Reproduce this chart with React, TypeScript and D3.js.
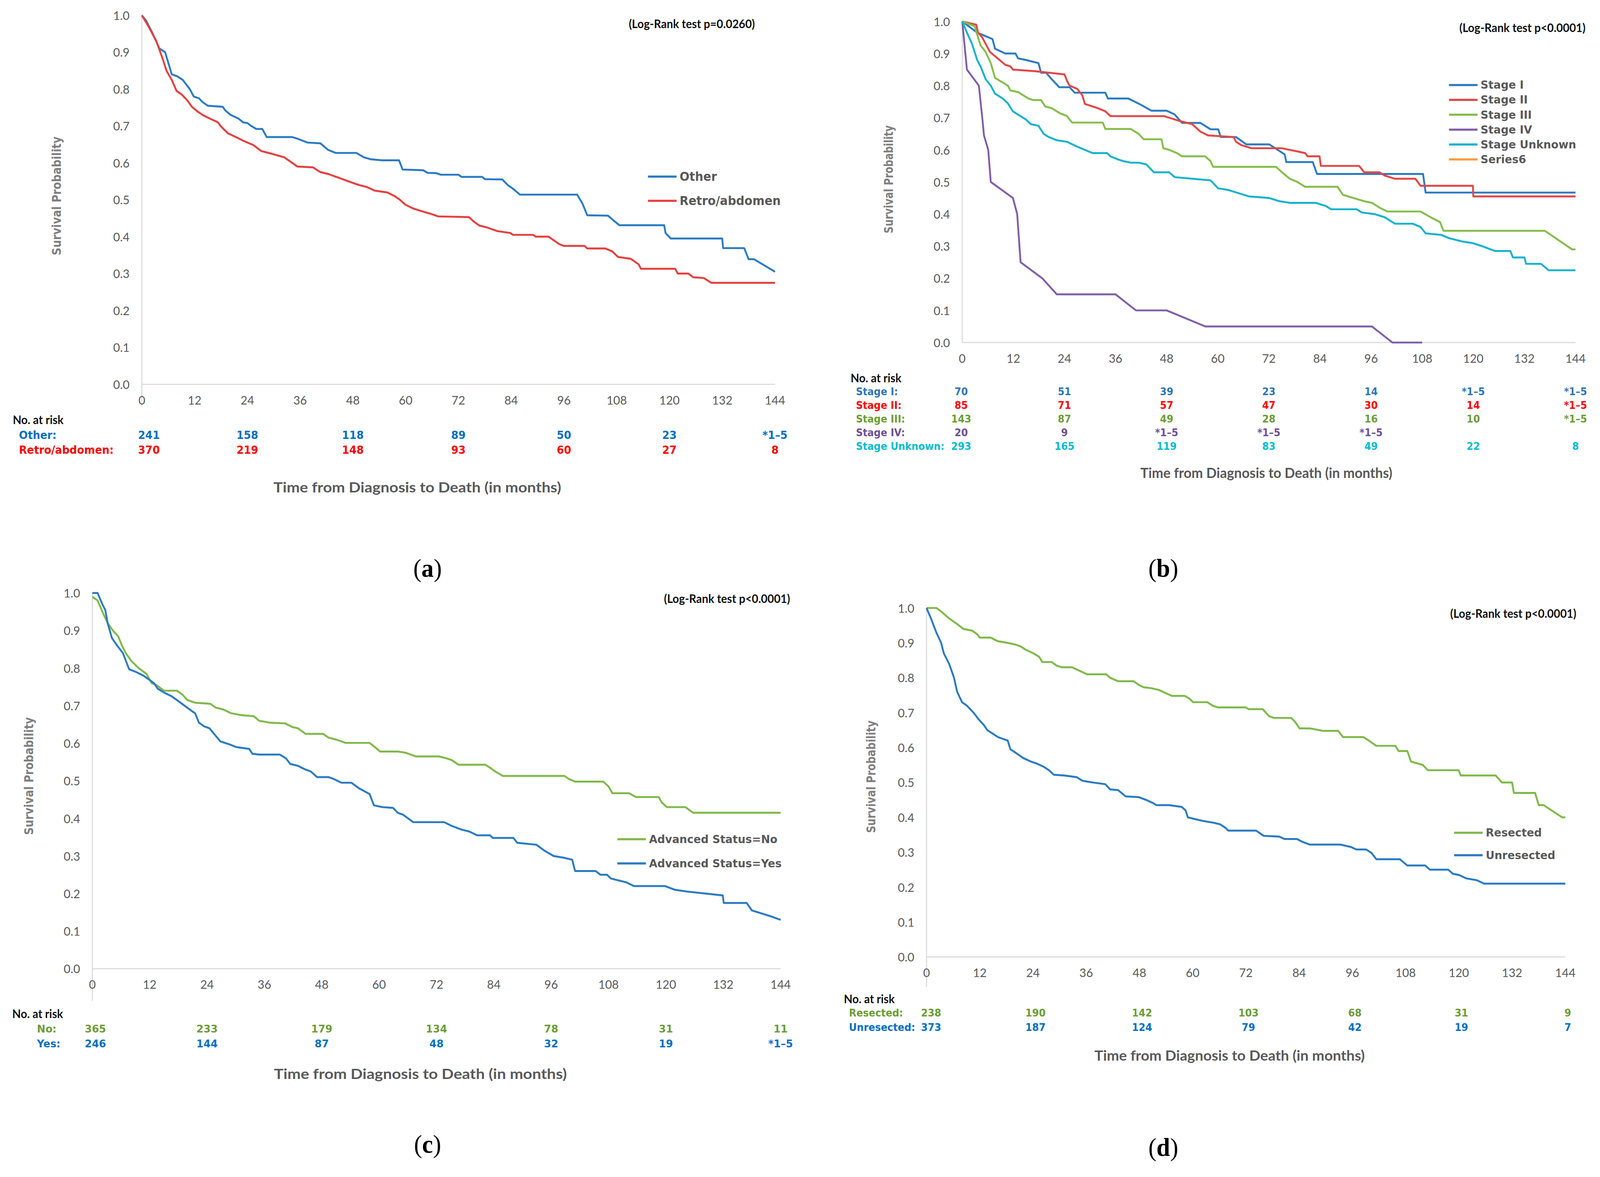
import React from 'react'
import * as d3 from 'd3'

type Pt = [number, number]

const monthTicks = [0, 12, 24, 36, 48, 60, 72, 84, 96, 108, 120, 132, 144]
const probTicks = [0, 0.1, 0.2, 0.3, 0.4, 0.5, 0.6, 0.7, 0.8, 0.9, 1.0]
const riskTimes = [0, 24, 48, 72, 96, 120, 144]

// (a) tumour site
const otherCurve: Pt[] = [[0,1.0],[1,0.985],[2.5,0.95],[4,0.91],[5.3,0.90],[6.8,0.84],[8,0.835],[9.3,0.825],[10.9,0.80],[11.8,0.78],[13,0.775],[13.8,0.765],[15,0.755],[18.4,0.752],[19,0.742],[20.2,0.73],[22,0.72],[23,0.71],[24,0.708],[24.9,0.70],[26,0.692],[27.4,0.692],[28.4,0.67],[34.2,0.67],[35.5,0.665],[37.7,0.655],[40.6,0.653],[42.4,0.635],[44.1,0.627],[48.8,0.627],[50.5,0.615],[52,0.61],[54.6,0.607],[58.5,0.607],[59.3,0.582],[64,0.58],[65,0.573],[67,0.572],[68,0.568],[72,0.568],[72.7,0.562],[77.4,0.562],[78,0.556],[82,0.555],[83.2,0.54],[84.4,0.53],[86,0.514],[99,0.514],[100.2,0.49],[101.3,0.458],[106,0.457],[107.2,0.445],[108.6,0.431],[118.8,0.431],[119.1,0.41],[120.3,0.395],[132,0.395],[132.2,0.369],[137,0.369],[138,0.339],[139.2,0.339],[144,0.305]]
const retroCurve: Pt[] = [[0,1.0],[1.5,0.97],[3.3,0.93],[4.8,0.88],[5.6,0.85],[6.8,0.825],[7.9,0.795],[9.1,0.785],[10.3,0.77],[11.4,0.752],[12.6,0.74],[13.8,0.73],[15.5,0.72],[17.3,0.71],[17.9,0.70],[19.6,0.68],[21.4,0.67],[23.1,0.66],[25.4,0.648],[27.2,0.632],[29.5,0.625],[32.4,0.615],[34.2,0.60],[35.4,0.59],[38.9,0.588],[40.6,0.575],[42.4,0.57],[44.7,0.56],[47,0.55],[49.4,0.54],[51.1,0.535],[52.9,0.525],[55.8,0.52],[57.5,0.51],[58.7,0.50],[59.9,0.487],[61.6,0.477],[63.4,0.47],[65.7,0.462],[67.4,0.455],[74.4,0.453],[75.6,0.44],[76.8,0.43],[78.5,0.425],[80.9,0.415],[83.8,0.41],[84.4,0.405],[89,0.405],[89.6,0.40],[92.5,0.40],[93.7,0.39],[94.9,0.38],[96,0.375],[100.7,0.375],[101.3,0.368],[105.4,0.368],[107,0.36],[108.3,0.345],[111.2,0.34],[113,0.325],[113.5,0.313],[121.3,0.313],[121.9,0.30],[124.3,0.30],[125.4,0.29],[127.8,0.288],[129.5,0.275],[144,0.275]]
const otherRisk = ['241', '158', '118', '89', '50', '23', '*1–5']
const retroRisk = ['370', '219', '148', '93', '60', '27', '8']

// (b) stage
const stage1Curve: Pt[] = [[0,1.0],[3.5,0.965],[7.1,0.945],[7.7,0.915],[10.1,0.90],[12.5,0.90],[13.1,0.885],[14.9,0.88],[17.9,0.87],[18.5,0.84],[19.7,0.84],[21,0.82],[22.8,0.795],[25.2,0.795],[26.4,0.778],[33.6,0.778],[34.2,0.76],[39,0.76],[42,0.74],[44.4,0.722],[48,0.722],[49.9,0.71],[51.6,0.684],[55.9,0.684],[58.3,0.664],[60.1,0.664],[60.7,0.64],[64.3,0.64],[66.7,0.617],[72.1,0.617],[75.7,0.586],[76.1,0.562],[82.3,0.562],[83.3,0.525],[108.2,0.525],[108.8,0.467],[144,0.467]]
const stage2Curve: Pt[] = [[0,1.0],[3.3,0.99],[3.7,0.965],[4.7,0.95],[5.5,0.93],[6.5,0.905],[8.3,0.885],[10.1,0.865],[11.3,0.86],[11.9,0.85],[17,0.845],[24,0.835],[24.6,0.815],[25.2,0.80],[27,0.79],[28.2,0.77],[28.8,0.743],[31.8,0.73],[33.6,0.72],[34.8,0.705],[47.4,0.705],[48.6,0.70],[51,0.69],[54,0.68],[55.9,0.657],[57.7,0.645],[63.7,0.64],[64.3,0.625],[65.5,0.615],[67.9,0.605],[75.1,0.605],[80.5,0.59],[81.1,0.58],[83.9,0.58],[84.2,0.55],[93.2,0.55],[94.4,0.53],[98,0.53],[99.2,0.52],[101.6,0.51],[106.4,0.51],[107.6,0.488],[119.9,0.488],[120,0.455],[144,0.455]]
const stage3Curve: Pt[] = [[0,1.0],[2.9,0.985],[4.3,0.925],[5.5,0.905],[6.7,0.87],[7.7,0.824],[9.5,0.81],[10.7,0.80],[11.3,0.785],[13.1,0.78],[14.3,0.77],[15.5,0.76],[16.7,0.755],[18.5,0.755],[19.5,0.735],[21,0.73],[22.8,0.715],[24.6,0.705],[25.8,0.685],[33,0.685],[33.6,0.665],[39.6,0.665],[41.4,0.65],[42.6,0.633],[46.8,0.633],[47.2,0.605],[48.6,0.60],[50.4,0.59],[51.6,0.58],[57,0.58],[58.3,0.565],[58.9,0.547],[73.7,0.547],[75.1,0.53],[76.9,0.51],[78.7,0.50],[80.5,0.485],[88.1,0.485],[89.4,0.46],[94.4,0.44],[96.2,0.435],[98,0.42],[99.8,0.408],[107.6,0.408],[110,0.39],[112.2,0.375],[113,0.348],[136.8,0.348],[143.2,0.29],[144,0.29]]
const stage4Curve: Pt[] = [[0,1.0],[1.1,0.85],[3.9,0.80],[4.7,0.70],[5.1,0.645],[6.1,0.60],[6.7,0.50],[11.9,0.45],[12.9,0.40],[13.7,0.25],[18.8,0.20],[22.2,0.15],[36,0.15],[40.8,0.10],[48,0.10],[57.1,0.05],[96.2,0.05],[101,0.0],[108,0.0]]
const stageUnkCurve: Pt[] = [[0,1.0],[1.1,0.965],[2.3,0.93],[3.5,0.88],[4.3,0.86],[5.5,0.82],[6.7,0.80],[7.7,0.775],[9.5,0.76],[10.7,0.745],[11.9,0.72],[13.1,0.71],[14.9,0.695],[16.1,0.68],[17.9,0.675],[19.1,0.65],[20.3,0.64],[22.2,0.63],[24.6,0.625],[27,0.61],[28.8,0.60],[30.6,0.59],[34,0.59],[34.8,0.58],[36.6,0.57],[37.8,0.565],[39.6,0.56],[41.4,0.56],[43.2,0.555],[45,0.53],[48.6,0.53],[49.9,0.515],[54.1,0.51],[58.3,0.505],[60.1,0.48],[62.5,0.475],[64.9,0.465],[67.3,0.455],[72.1,0.45],[74.5,0.44],[76.9,0.435],[83,0.435],[85.4,0.425],[86.6,0.415],[92.6,0.415],[93.8,0.405],[96.8,0.40],[99.2,0.39],[101.6,0.37],[105.8,0.37],[107.6,0.36],[108.8,0.34],[112.5,0.335],[114.3,0.325],[117.3,0.315],[119.7,0.31],[122.1,0.30],[125.1,0.285],[128.7,0.285],[129.3,0.265],[132,0.265],[132.4,0.245],[135.9,0.245],[137.7,0.225],[144,0.225]]
const stage1Risk = ['70', '51', '39', '23', '14', '*1–5', '*1–5']
const stage2Risk = ['85', '71', '57', '47', '30', '14', '*1–5']
const stage3Risk = ['143', '87', '49', '28', '16', '10', '*1–5']
const stage4Risk = ['20', '9', '*1–5', '*1–5', '*1–5', '', '']
const stageUnkRisk = ['293', '165', '119', '83', '49', '22', '8']

// (c) advanced status
const advNoCurve: Pt[] = [[0,0.99],[1.1,0.98],[2.1,0.95],[3.2,0.92],[4.3,0.90],[5.4,0.885],[6.2,0.86],[7,0.84],[8.1,0.82],[9.7,0.80],[11.3,0.785],[12.4,0.76],[13.4,0.755],[15,0.74],[17.7,0.74],[18.8,0.73],[19.9,0.715],[21.5,0.708],[24.7,0.705],[25.8,0.695],[27.4,0.69],[29,0.68],[31.1,0.675],[33.8,0.672],[34.9,0.66],[37,0.655],[40.3,0.653],[41.9,0.643],[43,0.64],[44.6,0.625],[48.3,0.625],[49.4,0.615],[51,0.61],[52.1,0.605],[53,0.601],[58,0.601],[59.1,0.59],[60.2,0.578],[63.9,0.578],[65.5,0.575],[66.6,0.57],[67.7,0.565],[72.5,0.565],[74.1,0.56],[75.2,0.555],[76.6,0.543],[82.2,0.543],[83.2,0.535],[84.3,0.525],[85.9,0.513],[98.8,0.513],[99.7,0.505],[101,0.498],[106.9,0.498],[108,0.485],[108.8,0.467],[112.3,0.467],[113.7,0.457],[118.5,0.457],[119.1,0.443],[120.2,0.43],[124.1,0.43],[125.7,0.415],[144,0.415]]
const advYesCurve: Pt[] = [[0,1.0],[1.1,1.0],[2.1,0.97],[2.7,0.955],[3.2,0.92],[4.1,0.88],[5.2,0.86],[6.4,0.84],[7,0.82],[7.7,0.797],[9.1,0.79],[10.7,0.78],[11.8,0.77],[12.9,0.76],[13.7,0.745],[15,0.735],[16.6,0.725],[17.7,0.715],[19.3,0.70],[20.9,0.685],[21.5,0.68],[22.3,0.655],[23.4,0.645],[24.5,0.64],[25.8,0.62],[26.8,0.605],[28.5,0.598],[30.1,0.59],[32.8,0.585],[33.5,0.572],[34.9,0.57],[39.2,0.57],[40.5,0.56],[41.4,0.545],[43,0.54],[44.6,0.53],[45.7,0.525],[47,0.51],[49.4,0.51],[50.5,0.505],[52.1,0.495],[54.2,0.495],[55.8,0.48],[58,0.465],[58.9,0.435],[60.7,0.43],[62.9,0.428],[63.9,0.415],[65,0.41],[66.6,0.395],[67.1,0.39],[73.6,0.39],[75.2,0.38],[77.3,0.37],[78.9,0.365],[80.5,0.355],[83.2,0.355],[83.8,0.348],[88.1,0.348],[88.9,0.335],[92.9,0.33],[94.5,0.315],[96.5,0.30],[98.8,0.295],[100.4,0.29],[101,0.26],[105.3,0.26],[106.3,0.25],[107.7,0.25],[108.5,0.24],[111.7,0.23],[113.3,0.22],[119.8,0.22],[121.9,0.21],[124.6,0.205],[128.4,0.20],[131.9,0.195],[132.1,0.175],[136.9,0.175],[138,0.155],[141.8,0.14],[144,0.13]]
const advNoRisk = ['365', '233', '179', '134', '78', '31', '11']
const advYesRisk = ['246', '144', '87', '48', '32', '19', '*1–5']

// (d) resection
const resectedCurve: Pt[] = [[0,1.0],[2.2,1.0],[3.3,0.99],[5.1,0.97],[6.8,0.955],[8.3,0.94],[10.3,0.935],[11.4,0.925],[12,0.915],[14.5,0.915],[16,0.905],[18.3,0.90],[20.1,0.895],[21.2,0.89],[22.4,0.88],[24.1,0.87],[25.4,0.86],[26.1,0.845],[28.2,0.845],[29.3,0.835],[30.5,0.83],[32.8,0.83],[34.5,0.82],[36.2,0.81],[40.5,0.81],[41.4,0.80],[43.2,0.79],[46.7,0.79],[47.8,0.78],[48.9,0.773],[50.7,0.77],[52.4,0.765],[54.1,0.755],[55.3,0.748],[58.2,0.748],[59.3,0.74],[60.1,0.73],[63.3,0.73],[64.5,0.72],[65.7,0.715],[72,0.715],[72.6,0.71],[75.8,0.71],[77.2,0.69],[78.3,0.685],[82.2,0.685],[83,0.675],[84.1,0.655],[86.4,0.655],[89.3,0.648],[92.8,0.648],[93.9,0.63],[98.5,0.63],[99.7,0.62],[101.4,0.605],[105.7,0.605],[106.4,0.59],[108.4,0.59],[109.2,0.56],[111.9,0.55],[113,0.535],[120,0.535],[120.4,0.52],[128.3,0.52],[129.7,0.50],[132,0.50],[132.4,0.47],[137.2,0.47],[138,0.435],[139.1,0.435],[143.3,0.40],[144,0.40]]
const unresectedCurve: Pt[] = [[0,1.0],[1,0.97],[2.2,0.93],[3.3,0.90],[3.9,0.87],[5.1,0.84],[6.2,0.80],[6.9,0.76],[8,0.73],[9.1,0.72],[10.6,0.70],[11.8,0.68],[12.9,0.665],[13.7,0.65],[14.9,0.64],[16.1,0.63],[17.2,0.625],[18.3,0.62],[18.9,0.595],[20.1,0.585],[21.8,0.57],[23.5,0.56],[24.7,0.555],[26.4,0.545],[27.6,0.535],[28.7,0.522],[31,0.52],[33.9,0.515],[35.1,0.505],[37.4,0.50],[40.3,0.495],[41.4,0.48],[43.2,0.478],[44.9,0.46],[47.8,0.458],[49.5,0.45],[51.2,0.44],[51.8,0.435],[54.7,0.435],[57.5,0.43],[58.4,0.42],[58.9,0.40],[60.5,0.395],[62.2,0.39],[64.5,0.385],[66.2,0.38],[67.4,0.37],[68,0.362],[74.3,0.362],[76,0.347],[79.5,0.345],[80.7,0.338],[83.5,0.338],[84.7,0.33],[86.4,0.322],[93.3,0.322],[95.7,0.315],[96.9,0.308],[99.1,0.308],[100.3,0.298],[101.4,0.28],[106.7,0.28],[108.4,0.262],[112.4,0.262],[113.5,0.25],[117.6,0.25],[118.7,0.238],[120,0.235],[121.7,0.225],[124,0.22],[125.7,0.21],[144,0.21]]
const resectedRisk = ['238', '190', '142', '103', '68', '31', '9']
const unresectedRisk = ['373', '187', '124', '79', '42', '19', '7']

interface Series {
  name: string
  riskLabel?: string
  points: Pt[]
  color: string
  textColor?: string
  risk?: string[]
}

interface PanelDef {
  x0: number; x1: number; yTop: number; yBottom: number; axisExt: number
  pText: string; pX: number; pY: number
  titleX: number; titleY: number; titleW: number
  yTitleX: number; yTitleY: number; yTitleW: number
  legX: number; legY: number; legStep: number; legFont: number
  riskHeadX: number; riskHeadY: number; riskLabelX: number; riskY: number; riskStep: number
  riskOff0: number; riskOff: number; riskFont: number
  tag: string; tagX: number; tagY: number
  series: Series[]
}

const BLUE_LINE = '#2b7bc2'
const BLUE_TEXT = '#0070c0'
const GREEN_LINE = '#7fb94a'
const GREEN_TEXT = '#6c9d38'

const panels: PanelDef[] = [
  {
    x0: 139, x1: 759.5, yTop: 14.3, yBottom: 359, axisExt: 21,
    pText: '(Log-Rank test p=0.0260)', pX: 678, pY: 22,
    titleX: 409, titleY: 455, titleW: 282,
    yTitleX: 55.5, yTitleY: 183, yTitleW: 111,
    legX: 635, legY: 165, legStep: 22.6, legFont: 11.4,
    riskHeadX: 12.5, riskHeadY: 392, riskLabelX: 18.6, riskY: 406.4, riskStep: 14,
    riskOff0: 7, riskOff: 0, riskFont: 10.2,
    tag: 'a', tagX: 419, tagY: 539,
    series: [
      { name: 'Other', riskLabel: 'Other:', points: otherCurve, color: BLUE_LINE, textColor: BLUE_TEXT, risk: otherRisk },
      { name: 'Retro/abdomen', riskLabel: 'Retro/abdomen:', points: retroCurve, color: '#e5403f', textColor: '#ff0000', risk: retroRisk },
    ],
  },
  {
    x0: 943, x1: 1544, yTop: 20, yBottom: 320, axisExt: 0,
    pText: '(Log-Rank test p<0.0001)', pX: 1492, pY: 25.5,
    titleX: 1241, titleY: 441.5, titleW: 247,
    yTitleX: 871, yTitleY: 167.5, yTitleW: 101,
    legX: 1420, legY: 79.4, legStep: 13.9, legFont: 10.6,
    riskHeadX: 833.6, riskHeadY: 353, riskLabelX: 838.8, riskY: 366, riskStep: 12.75,
    riskOff0: -1, riskOff: 0, riskFont: 9.4,
    tag: 'b', tagX: 1140, tagY: 539,
    series: [
      { name: 'Stage I', riskLabel: 'Stage I:', points: stage1Curve, color: '#2c7bc1', textColor: '#2e75b6', risk: stage1Risk },
      { name: 'Stage II', riskLabel: 'Stage II:', points: stage2Curve, color: '#e34646', textColor: '#ff0000', risk: stage2Risk },
      { name: 'Stage III', riskLabel: 'Stage III:', points: stage3Curve, color: '#86bd4c', textColor: GREEN_TEXT, risk: stage3Risk },
      { name: 'Stage IV', riskLabel: 'Stage IV:', points: stage4Curve, color: '#8060a8', textColor: '#6e4f96', risk: stage4Risk },
      { name: 'Stage Unknown', riskLabel: 'Stage Unknown:', points: stageUnkCurve, color: '#17b2cc', textColor: '#00bcd0', risk: stageUnkRisk },
      { name: 'Series6', points: [], color: '#ff9a3d' },
    ],
  },
  {
    x0: 90.5, x1: 765, yTop: 554, yBottom: 905, axisExt: 30,
    pText: '(Log-Rank test p<0.0001)', pX: 712.5, pY: 559,
    titleX: 412, titleY: 1003, titleW: 287,
    yTitleX: 28.6, yTitleY: 725, yTitleW: 110,
    legX: 605, legY: 784, legStep: 22.6, legFont: 10.6,
    riskHeadX: 12, riskHeadY: 947, riskLabelX: 36.2, riskY: 961, riskStep: 14,
    riskOff0: 3, riskOff: 0, riskFont: 10,
    tag: 'c', tagX: 419, tagY: 1077,
    series: [
      { name: 'Advanced Status=No', riskLabel: 'No:', points: advNoCurve, color: GREEN_LINE, textColor: GREEN_TEXT, risk: advNoRisk },
      { name: 'Advanced Status=Yes', riskLabel: 'Yes:', points: advYesCurve, color: BLUE_LINE, textColor: BLUE_TEXT, risk: advYesRisk },
    ],
  },
  {
    x0: 908, x1: 1534, yTop: 568, yBottom: 894, axisExt: 28,
    pText: '(Log-Rank test p<0.0001)', pX: 1483, pY: 573,
    titleX: 1205, titleY: 986, titleW: 265,
    yTitleX: 853.7, yTitleY: 725.7, yTitleW: 105,
    legX: 1425, legY: 778, legStep: 21, legFont: 10.6,
    riskHeadX: 827, riskHeadY: 933, riskLabelX: 832, riskY: 946.4, riskStep: 13.3,
    riskOff0: 4.5, riskOff: 2.5, riskFont: 9.5,
    tag: 'd', tagX: 1140, tagY: 1080,
    series: [
      { name: 'Resected', riskLabel: 'Resected:', points: resectedCurve, color: GREEN_LINE, textColor: GREEN_TEXT, risk: resectedRisk },
      { name: 'Unresected', riskLabel: 'Unresected:', points: unresectedCurve, color: BLUE_LINE, textColor: BLUE_TEXT, risk: unresectedRisk },
    ],
  },
]

const SANS = "Lato, 'Open Sans', sans-serif"
const WIDE = "'DejaVu Sans', Verdana, sans-serif"
const AXIS_GREY = '#d9d9d9'
const LABEL_GREY = '#595959'

const Panel: React.FC<{ p: PanelDef }> = ({ p }) => {
  const x = d3.scaleLinear().domain([0, 144]).range([p.x0, p.x1])
  const y = d3.scaleLinear().domain([0, 1]).range([p.yBottom, p.yTop])
  const line = d3.line<Pt>().x((d) => x(d[0])).y((d) => y(d[1]))
  const riskRows = p.series.filter((s) => s.risk)

  return (
    <g>
      {/* axes */}
      <line x1={p.x0} x2={p.x0} y1={p.yTop} y2={p.yBottom + p.axisExt} stroke={AXIS_GREY} strokeWidth={1} />
      <line x1={p.x0} x2={p.x1} y1={p.yBottom} y2={p.yBottom} stroke={AXIS_GREY} strokeWidth={1} />
      {probTicks.map((t) => (
        <text key={'y' + t} x={p.x0 - 12} y={y(t)} textAnchor="end" dominantBaseline="central"
          fontFamily={SANS} fontSize={11.5} fill={LABEL_GREY}>{t.toFixed(1)}</text>
      ))}
      {monthTicks.map((t) => (
        <text key={'x' + t} x={x(t)} y={p.yBottom + 14.5} textAnchor="middle" dominantBaseline="central"
          fontFamily={SANS} fontSize={11.5} fill={LABEL_GREY}>{t}</text>
      ))}

      {/* curves */}
      {p.series.filter((s) => s.points.length).map((s) => (
        <path key={s.name} d={line(s.points) ?? ''} fill="none" stroke={s.color} strokeWidth={1.8} strokeLinejoin="round" />
      ))}

      {/* legend */}
      {p.series.map((s, i) => (
        <g key={'leg' + s.name}>
          <line x1={p.legX} x2={p.legX + 28} y1={p.legY + i * p.legStep} y2={p.legY + i * p.legStep}
            stroke={s.color} strokeWidth={2} />
          <text x={p.legX + 31} y={p.legY + i * p.legStep} dominantBaseline="central"
            fontFamily={WIDE} fontWeight="bold" fontSize={p.legFont} fill={LABEL_GREY}>{s.name}</text>
        </g>
      ))}

      <text x={p.pX} y={p.pY} textAnchor="middle" dominantBaseline="central" fontFamily={SANS}
        fontWeight="bold" fontSize={11} fill="#111">{p.pText}</text>

      <text transform={`translate(${p.yTitleX},${p.yTitleY}) rotate(-90)`} textAnchor="middle"
        dominantBaseline="central" fontFamily={WIDE} fontWeight="bold" fontSize={12} fill="#7f7f7f"
        textLength={p.yTitleW} lengthAdjust="spacingAndGlyphs">Survival Probability</text>

      <text x={p.titleX} y={p.titleY} textAnchor="middle" dominantBaseline="central" fontFamily={SANS}
        fontWeight="bold" fontSize={13} fill={LABEL_GREY} textLength={p.titleW}
        lengthAdjust="spacingAndGlyphs">Time from Diagnosis to Death (in months)</text>

      {/* number at risk */}
      <text x={p.riskHeadX} y={p.riskHeadY} dominantBaseline="central" fontFamily={SANS}
        fontWeight="bold" fontSize={11} fill="#111">No. at risk</text>
      {riskRows.map((s, r) => (
        <g key={'risk' + s.name}>
          <text x={p.riskLabelX} y={p.riskY + r * p.riskStep} dominantBaseline="central" fontFamily={WIDE}
            fontWeight="bold" fontSize={p.riskFont} fill={s.textColor}>{s.riskLabel}</text>
          {riskTimes.map((t, i) => (
            <text key={t} x={x(t) + (i === 0 ? p.riskOff0 : p.riskOff)} y={p.riskY + r * p.riskStep}
              textAnchor="middle" dominantBaseline="central" fontFamily={WIDE} fontWeight="bold"
              fontSize={p.riskFont} fill={s.textColor}>{s.risk![i]}</text>
          ))}
        </g>
      ))}

      {/* panel tag */}
      <text x={p.tagX} y={p.tagY} textAnchor="middle" fontFamily="'Liberation Serif', 'Times New Roman', serif"
        fontSize={24} fill="#000">(<tspan fontWeight="bold">{p.tag}</tspan>)</text>
    </g>
  )
}

export default function App() {
  return (
    <svg viewBox="0 0 1568 1099.6" preserveAspectRatio="none"
      style={{ position: 'fixed', left: 0, top: 0, width: '100vw', height: '100vh', background: '#fff' }}>
      <rect x={0} y={0} width={1568} height={1099.6} fill="#fff" />
      {panels.map((p) => <Panel key={p.tag} p={p} />)}
    </svg>
  )
}
